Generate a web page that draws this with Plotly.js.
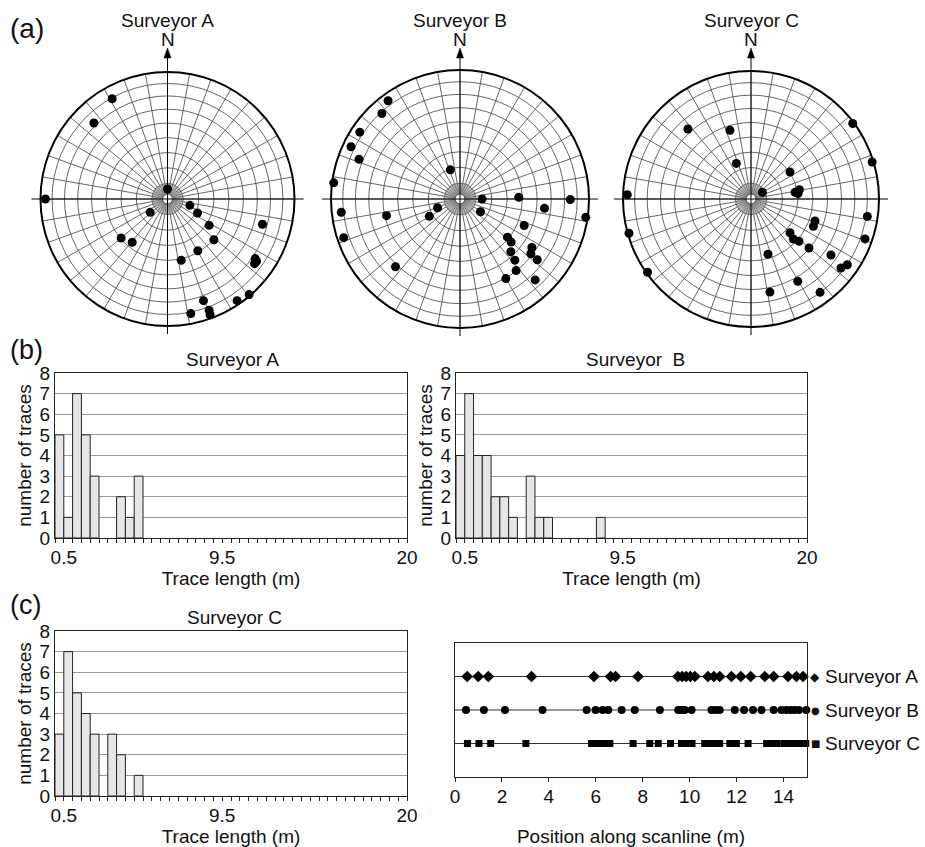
<!DOCTYPE html>
<html><head><meta charset="utf-8">
<script src="https://cdn.plot.ly/plotly-3.0.1.min.js"></script>
<style>html,body{margin:0;padding:0;background:#fff}#chart{width:925px;height:847px}</style>
</head><body><div id="chart"></div>
<script>
// ---------- data ----------
const surveyors = ['Surveyor A', 'Surveyor B', 'Surveyor C'];
// stereonet poles: azimuth (deg, clockwise from N) and projected distance (% of net radius)
const azA = [331.1,315.9,270,0,105.8,115.0,232.4,122.3,104.9,131.3,229.9,219.2,149.6,167.4,124.2,125.0,126.6,160.5,145.6,139.5,159.5,159.8,168.5];
const rA  = [90.2,83.3,96.1,7.9,18.3,26.1,17.2,38.8,77.4,48.6,47.7,44.0,47.2,49.5,83.5,85.6,85.4,84.9,97.0,99.0,93.6,97.1,92.1];
const azB = [323.8,317.6,303.7,295.6,291.5,277.3,341.6,263.6,257.2,248.8,240.5,251.6,223.6,90,121.9,88.4,96.3,90.3,98.3,112.4,128.8,130.1,136.1,138.1,124.0,127.7,128.2,141.9,150.1,137.1];
const rB  = [94.4,89.8,93.4,93.7,84.1,98.7,23.8,92.6,58.4,18.7,27.3,95.0,72.5,17.1,18.7,45.6,65.9,85.5,98.5,53.8,47.2,51.8,56.8,63.7,67.2,69.4,76.2,70.5,71.2,85.6];
const azC = [53.4,73.0,318.0,343.0,337.6,55.3,59.5,81.4,79.1,83.5,272.0,254.3,234.7,98.5,109.0,113.7,109.3,130.8,133.4,131.4,130.2,162.9,125.0,124.3,127.5,150.4,168.5,143.5];
const rC  = [99,99,73.6,56.1,30.1,37.1,10.3,34.8,38.5,37.0,96.7,99,99,91.9,52.9,53.2,94.4,40.3,45.5,50.0,59.3,45.2,76.3,91.1,88.6,73.9,74.2,90.7];

// trace length histograms: bin upper edges (m) and counts
const binUpper = [0.5,1.0,1.5,2.0,2.5,3.0,3.5,4.0,4.5,5.0,5.5,6.0,6.5,7.0,7.5,8.0,8.5];
const countsA = [5,1,7,5,3,0,0,2,1,3,0,0,0,0,0,0,0];
const countsB = [4,7,4,4,2,2,1,0,3,1,1,0,0,0,0,0,1];
const countsC = [3,7,5,4,3,0,3,2,0,1,0,0,0,0,0,0,0];
const xTickLabels = ['0.5','9.5','20'];

// scanline positions (m)
const posA = [0.52,0.99,1.42,3.26,5.92,6.63,6.84,7.80,9.50,9.68,9.85,10.03,10.22,10.78,11.03,11.28,11.78,12.18,12.60,13.20,13.58,14.19,14.55,14.83];
const posB = [0.47,1.23,2.13,3.73,5.61,5.99,6.29,6.53,7.10,7.66,8.73,9.51,9.65,9.79,10.08,10.93,11.11,11.28,11.92,12.32,12.70,13.06,13.58,13.91,14.12,14.30,14.47,14.66,14.97];
const posC = [0.53,1.02,1.52,3.02,5.82,6.00,6.20,6.40,6.60,7.59,8.30,8.66,9.18,9.65,9.90,10.10,10.64,10.86,11.07,11.28,11.71,11.99,12.49,13.28,13.50,13.71,14.01,14.27,14.44,14.61,14.78,14.95];
const scanlineExtent = [0, 15];
const scanRows = [3, 2, 1];

// ---------- layout helpers ----------
const W = 925, H = 847;
const FONT = 'Liberation Sans, Arial, sans-serif';
const fx = x => x / W;
const fy = y => 1 - y / H;
const domX = (a, b) => [a / W, b / W];
const domY = (top, bot) => [1 - bot / H, 1 - top / H];

const traces = [];
const shapes = [];
const annotations = [];

// ---------- stereonets ----------
const nets = [
  {name: 'polar',  sub: 'polar',  cx: 167.5, cy: 199, R: 127, az: azA, r: rA},
  {name: 'polar2', sub: 'polar2', cx: 460,   cy: 199, R: 129, az: azB, r: rB},
  {name: 'polar3', sub: 'polar3', cx: 751,   cy: 199, R: 128, az: azC, r: rC}
];
// equal-area rings every 10 degrees of dip
const ringVals = [];
for (let d = 10; d < 90; d += 10) ringVals.push(100 * Math.sin(d / 2 * Math.PI / 180) / Math.sin(Math.PI / 4));

const layout = {
  width: W, height: H,
  margin: {l: 0, r: 0, t: 0, b: 0},
  paper_bgcolor: '#fff', plot_bgcolor: '#fff',
  showlegend: false,
  font: {family: FONT, size: 19, color: '#111'}
};

nets.forEach((n, i) => {
  layout[n.name] = {
    domain: {x: domX(n.cx - n.R, n.cx + n.R), y: domY(n.cy - n.R, n.cy + n.R)},
    bgcolor: '#fff',
    angularaxis: {rotation: 90, direction: 'clockwise', dtick: 10, showticklabels: false, ticks: '',
      showgrid: true, gridcolor: '#555', gridwidth: 0.9, showline: true, linecolor: '#000', linewidth: 2},
    radialaxis: {range: [0, 100], tickvals: ringVals, showticklabels: false, ticks: '', showline: false,
      showgrid: true, gridcolor: '#555', gridwidth: 0.9}
  };
  // dense inner radial lines
  const dr = [], dt = [];
  for (let a = 0; a < 360; a += 2.5) {
    if (a % 10 === 0) continue;
    dr.push(3, ringVals[0], null); dt.push(a, a, null);
  }
  traces.push({type: 'scatterpolar', subplot: n.sub, mode: 'lines', r: dr, theta: dt,
    line: {color: '#888', width: 0.5}, hoverinfo: 'skip', connectgaps: false});
  // central hole
  traces.push({type: 'scatterpolar', subplot: n.sub, mode: 'markers', r: [0], theta: [0],
    marker: {size: 10, color: '#fff', line: {color: '#444', width: 1}}, hoverinfo: 'skip'});
  // poles
  traces.push({type: 'scatterpolar', subplot: n.sub, mode: 'markers', r: n.r, theta: n.az,
    marker: {size: 9, color: '#000'}, cliponaxis: false, name: surveyors[i]});
  // crosshair
  shapes.push({type: 'line', xref: 'paper', yref: 'paper', x0: fx(n.cx - n.R - 9), x1: fx(n.cx + n.R + 9),
    y0: fy(n.cy), y1: fy(n.cy), line: {color: '#000', width: 1}});
  shapes.push({type: 'line', xref: 'paper', yref: 'paper', x0: fx(n.cx), x1: fx(n.cx),
    y0: fy(55), y1: fy(n.cy + n.R + 8), line: {color: '#000', width: 1}});
  shapes.push({type: 'path', xref: 'paper', yref: 'paper',
    path: `M ${fx(n.cx)},${fy(48)} L ${fx(n.cx - 3.5)},${fy(58)} L ${fx(n.cx + 3.5)},${fy(58)} Z`,
    fillcolor: '#000', line: {color: '#000', width: 0.5}});
  annotations.push({xref: 'paper', yref: 'paper', x: fx(n.cx), y: fy(40), text: 'N', showarrow: false,
    font: {size: 19}, xanchor: 'center', yanchor: 'middle'});
  annotations.push({xref: 'paper', yref: 'paper', x: fx(n.cx), y: fy(20), text: surveyors[i], showarrow: false,
    font: {size: 19}, xanchor: 'center', yanchor: 'middle'});
});

// ---------- histograms ----------
const tickVals = [], tickText = [];
for (let k = 0; k <= 40; k++) {
  const v = k * 0.5;
  tickVals.push(v);
  const s = (v === 0.5) ? xTickLabels[0] : (v === 9.5) ? xTickLabels[1] : (v === 20) ? xTickLabels[2] : '';
  tickText.push(s);
}
const hists = [
  {xa: 'xaxis', ya: 'yaxis', x: 'x', y: 'y', counts: countsA, dx: [55, 407], dy: [373, 538], title: 'Surveyor A', tx: 232, ty: 359},
  {xa: 'xaxis2', ya: 'yaxis2', x: 'x2', y: 'y2', counts: countsB, dx: [456, 807], dy: [373, 538], title: 'Surveyor  B', tx: 635, ty: 359},
  {xa: 'xaxis3', ya: 'yaxis3', x: 'x3', y: 'y3', counts: countsC, dx: [55, 407], dy: [631, 796], title: 'Surveyor C', tx: 234, ty: 617}
];
hists.forEach(h => {
  traces.push({type: 'bar', x: binUpper, y: h.counts.map(c => (c > 0 ? c : null)), xaxis: h.x, yaxis: h.y,
    width: 0.5, offset: -0.5,
    marker: {color: '#e6e6e6', line: {color: '#222', width: 1}}, hoverinfo: 'x+y'});
  layout[h.xa] = {domain: domX(h.dx[0], h.dx[1]), anchor: h.y, range: [0, 20], tickmode: 'array',
    tickvals: tickVals, ticktext: tickText, ticks: 'outside', ticklen: 4, tickcolor: '#222', tickwidth: 1,
    showgrid: false, zeroline: false, showline: true, mirror: true, linecolor: '#222', linewidth: 1,
    tickfont: {size: 19}, ticklabelstandoff: -2, title: {text: 'Trace length (m)', font: {size: 19}, standoff: 3}};
  layout[h.ya] = {domain: domY(h.dy[0], h.dy[1]), anchor: h.x, range: [0, 8], dtick: 1, ticks: '',
    showgrid: true, gridcolor: '#9a9a9a', gridwidth: 1, zeroline: false, showline: true, mirror: true,
    linecolor: '#222', linewidth: 1, tickfont: {size: 19},
    title: {text: 'number of traces', font: {size: 19}, standoff: 2}};
  annotations.push({xref: 'paper', yref: 'paper', x: fx(h.tx), y: fy(h.ty), text: h.title, showarrow: false,
    font: {size: 19}, xanchor: 'center', yanchor: 'middle'});
});

// ---------- scanline ----------
const scanSeries = [
  {pos: posA, row: scanRows[0], sym: 'diamond', size: 9, glyph: '\u25C6', gsize: 12},
  {pos: posB, row: scanRows[1], sym: 'circle', size: 8, glyph: '\u25CF', gsize: 10},
  {pos: posC, row: scanRows[2], sym: 'square', size: 7, glyph: '\u25A0', gsize: 10}
];
scanSeries.forEach((s, i) => {
  traces.push({type: 'scatter', mode: 'lines', x: scanlineExtent, y: scanlineExtent.map(() => s.row),
    xaxis: 'x4', yaxis: 'y4', line: {color: '#333', width: 1.2}, hoverinfo: 'skip'});
  traces.push({type: 'scatter', mode: 'markers', x: s.pos, y: s.pos.map(() => s.row), xaxis: 'x4', yaxis: 'y4',
    marker: {symbol: s.sym, size: s.size, color: '#000'}, cliponaxis: false, name: surveyors[i]});
  annotations.push({xref: 'paper', yref: 'y4', x: fx(815), y: s.row, text: s.glyph, showarrow: false,
    font: {size: s.gsize, family: 'DejaVu Sans'}, xanchor: 'center', yanchor: 'middle'});
  annotations.push({xref: 'paper', yref: 'y4', x: fx(823), y: s.row, text: surveyors[i], showarrow: false,
    font: {size: 19}, xanchor: 'left', yanchor: 'middle'});
});
layout.xaxis4 = {domain: domX(455, 807), anchor: 'y4', range: scanlineExtent, dtick: 2, ticks: 'outside',
  ticklen: 4, tickcolor: '#222', showgrid: false, zeroline: false, showline: true, mirror: true,
  linecolor: '#222', linewidth: 1, tickfont: {size: 19}, ticklabelstandoff: -2,
  title: {text: 'Position along scanline (m)', font: {size: 19}, standoff: 30}};
layout.yaxis4 = {domain: domY(643, 777), anchor: 'x4', range: [0, 4], showticklabels: false, ticks: '',
  showgrid: false, zeroline: false, showline: true, mirror: true, linecolor: '#222', linewidth: 1};

// panel labels
annotations.push({xref: 'paper', yref: 'paper', x: fx(8), y: fy(28), text: '(a)', showarrow: false,
  font: {size: 28}, xanchor: 'left', yanchor: 'middle'});
annotations.push({xref: 'paper', yref: 'paper', x: fx(8), y: fy(350), text: '(b)', showarrow: false,
  font: {size: 27}, xanchor: 'left', yanchor: 'middle'});
annotations.push({xref: 'paper', yref: 'paper', x: fx(8), y: fy(605), text: '(c)', showarrow: false,
  font: {size: 27}, xanchor: 'left', yanchor: 'middle'});

layout.shapes = shapes;
layout.annotations = annotations;

Plotly.newPlot('chart', traces, layout, {displayModeBar: false, staticPlot: true});
</script></body></html>
